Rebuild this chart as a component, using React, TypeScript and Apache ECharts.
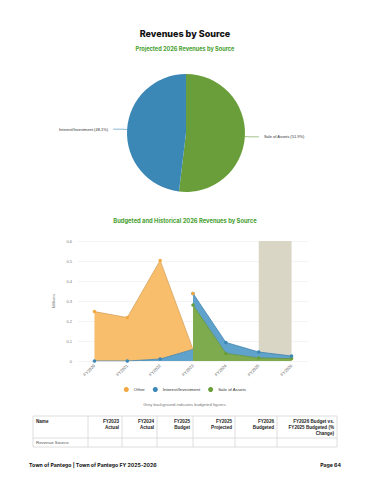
import React, { useEffect, useRef } from "react";
import * as echarts from "echarts";

const categories = ["FY2020", "FY2021", "FY2022", "FY2023", "FY2024", "FY2025", "FY2026"];
const otherValues: (number | null)[] = [0.247, 0.217, 0.493, 0, null, null, null];
const interestValues: (number | null)[] = [0, 0, 0.01, 0.058, 0.055, 0.03, 0.013];
const saleValues: (number | null)[] = [null, null, null, 0.28, 0.038, 0.015, 0.012];
const budgetedRange = ["FY2025", "FY2026"];

const pieNames = ["Sale of Assets", "Interest/Investment"];
const pieShares = [51.9, 48.1];

const tableHeaders = [
  "Name",
  "FY2023\nActual",
  "FY2024\nActual",
  "FY2025\nBudget",
  "FY2025\nProjected",
  "FY2026\nBudgeted",
  "FY2026 Budget vs.\nFY2025 Budgeted (%\nChange)",
];
const tableRows = [["Revenue Source", "", "", "", "", "", ""]];

const COLORS = {
  other: "#f4a940",
  otherFill: "#f8be6c",
  otherLine: "#d5a35e",
  interest: "#3b88b6",
  interestFill: "#5fa2cb",
  interestLine: "#3f82ae",
  sale: "#6a9e3a",
  saleFill: "#7dab4e",
  saleLine: "#5f8f35",
};

export default function App() {
  const ref = useRef<HTMLDivElement>(null);
  useEffect(() => {
    if (!ref.current) return;
    const chart = echarts.init(ref.current, undefined, { renderer: "svg" });
    const splitIdx = saleValues.findIndex((v) => v != null);
    const left = (arr: (number | null)[]) =>
      arr.map((v, i) =>
        i <= splitIdx ? (v == null ? "-" : i === splitIdx ? { value: v, symbol: "none" } : v) : "-"
      );
    const right = (arr: (number | null)[]) => arr.map((v, i) => (i >= splitIdx && v != null ? v : "-"));

    const colX = [33, 88, 122, 157, 193, 235, 277, 337];
    const headTop = 416;
    const headBottom = 438;
    const rowH = 9;
    const graphics: any[] = [];
    const tableBottom = headBottom + rowH * tableRows.length;
    graphics.push({
      type: "rect",
      shape: { x: colX[0], y: headTop, width: colX[colX.length - 1] - colX[0], height: tableBottom - headTop },
      style: { fill: "#fff", stroke: "#d6d6d6", lineWidth: 0.8 },
    });
    for (let c = 1; c < colX.length - 1; c++) {
      graphics.push({
        type: "line",
        shape: { x1: colX[c], y1: headTop, x2: colX[c], y2: tableBottom },
        style: { stroke: "#d6d6d6", lineWidth: 0.8 },
      });
    }
    graphics.push({
      type: "line",
      shape: { x1: colX[0], y1: headBottom, x2: colX[colX.length - 1], y2: headBottom },
      style: { stroke: "#d6d6d6", lineWidth: 0.8 },
    });
    tableHeaders.forEach((h, c) => {
      const isLeft = c === 0;
      graphics.push({
        type: "text",
        x: isLeft ? colX[c] + 3 : colX[c + 1] - 3,
        y: headTop + 3,
        style: {
          text: h,
          fontSize: 4.6,
          fontWeight: "bold",
          fontFamily: "Liberation Sans",
          fill: "#222",
          align: isLeft ? "left" : "right",
          verticalAlign: "top",
          lineHeight: 5.8,
        },
      });
    });
    tableRows.forEach((row, r) => {
      row.forEach((cell, c) => {
        if (!cell) return;
        graphics.push({
          type: "text",
          x: c === 0 ? colX[c] + 3 : colX[c + 1] - 3,
          y: headBottom + r * rowH + rowH / 2,
          style: {
            text: cell,
            fontSize: 4.4,
            fontFamily: "Liberation Sans",
            fill: "#555",
            align: c === 0 ? "left" : "right",
            verticalAlign: "middle",
          },
        });
      });
    });
    graphics.push({
      type: "text",
      x: 29,
      y: 465,
      style: {
        text: "Town of Pantego | Town of Pantego FY 2025-2026",
        fontSize: 5.2,
        fontWeight: "bold",
        fontFamily: "Inter",
        fill: "#111",
        verticalAlign: "middle",
      },
    });
    graphics.push({
      type: "text",
      x: 341,
      y: 465,
      style: {
        text: "Page 64",
        fontSize: 5.2,
        fontWeight: "bold",
        fontFamily: "Inter",
        fill: "#111",
        align: "right",
        verticalAlign: "middle",
      },
    });

    const areaSeries = (
      name: string,
      data: any[],
      stack: string,
      color: string,
      fill: string,
      line: string,
      z: number
    ) => ({
      type: "line",
      name,
      data,
      stack,
      z,
      symbol: "circle",
      symbolSize: 3.5,
      showAllSymbol: true,
      itemStyle: { color },
      lineStyle: { color: line, width: 0.8 },
      areaStyle: { color: fill, opacity: 1 },
      emphasis: { disabled: true },
    });

    chart.setOption({
      animation: false,
      textStyle: { fontFamily: "Liberation Sans" },
      title: [
        {
          text: "Revenues by Source",
          left: "center",
          top: 24,
          textStyle: { fontFamily: "Inter", fontSize: 9, fontWeight: 800, color: "#111" },
        },
        {
          text: "Projected 2026 Revenues by Source",
          left: "center",
          top: 41,
          textStyle: { fontFamily: "Inter", fontSize: 5.6, fontWeight: "bold", color: "#47a030" },
        },
        {
          text: "Budgeted and Historical 2026 Revenues by Source",
          left: "center",
          top: 212,
          textStyle: { fontFamily: "Inter", fontSize: 5.8, fontWeight: "bold", color: "#47a030" },
        },
        {
          text: "Grey background indicates budgeted figures.",
          left: "center",
          top: 397,
          textStyle: { fontFamily: "Liberation Sans", fontSize: 4.2, fontWeight: "normal", color: "#777" },
        },
      ],
      legend: {
        data: ["Other", "Interest/Investment", "Sale of Assets"],
        top: 382,
        left: "center",
        icon: "circle",
        itemWidth: 5,
        itemHeight: 5,
        itemGap: 8,
        textStyle: { fontSize: 4.4, color: "#333" },
      },
      grid: { left: 78, right: 62, top: 241, height: 120, containLabel: false },
      xAxis: {
        type: "category",
        data: categories,
        boundaryGap: true,
        axisLine: { show: false },
        axisTick: { show: false },
        axisLabel: { rotate: 45, fontSize: 4.2, color: "#666", margin: 4 },
      },
      yAxis: {
        type: "value",
        min: 0,
        max: 0.6,
        interval: 0.1,
        name: "Millions",
        nameLocation: "middle",
        nameGap: 14,
        nameTextStyle: { fontSize: 4.2, color: "#777" },
        axisLabel: { fontSize: 4, color: "#777", margin: 6, formatter: (v: number) => String(+v.toFixed(1)) },
        splitLine: { lineStyle: { color: "#ececec", width: 0.6 } },
      },
      series: [
        {
          type: "pie",
          name: "Projected",
          center: [186, 133],
          radius: 59,
          startAngle: 90,
          clockwise: true,
          data: pieNames.map((n, i) => ({ name: n, value: pieShares[i] })),
          color: [COLORS.sale, COLORS.interest],
          label: { formatter: "{b} ({c}%)", fontSize: 4, color: "#333" },
          labelLine: { length: 5, length2: 9, lineStyle: { width: 0.6 } },
          itemStyle: { borderWidth: 0 },
          emphasis: { disabled: true },
          silent: true,
        },
        {
          type: "line",
          name: "budgeted",
          data: categories.map(() => "-"),
          z: 0,
          silent: true,
          markArea: {
            silent: true,
            itemStyle: { color: "#d9d6c6" },
            data: [[{ xAxis: budgetedRange[0] }, { xAxis: budgetedRange[1] }]],
          },
        },
        areaSeries("Interest/Investment", left(interestValues), "hist", COLORS.interest, COLORS.interestFill, COLORS.interestLine, 2),
        areaSeries("Other", left(otherValues), "hist", COLORS.other, COLORS.otherFill, COLORS.otherLine, 2),
        areaSeries("Sale of Assets", right(saleValues), "budget", COLORS.sale, COLORS.saleFill, COLORS.saleLine, 3),
        areaSeries("Interest/Investment", right(interestValues), "budget", COLORS.interest, COLORS.interestFill, COLORS.interestLine, 3),
        areaSeries("Other", right(otherValues), "budget", COLORS.other, COLORS.otherFill, COLORS.otherLine, 3),
      ],
      graphic: graphics,
    });
    return () => chart.dispose();
  }, []);
  return (
    <div
      ref={ref}
      style={{ position: "fixed", left: 0, top: 0, width: 370, height: 480, background: "#fff" }}
    />
  );
}
